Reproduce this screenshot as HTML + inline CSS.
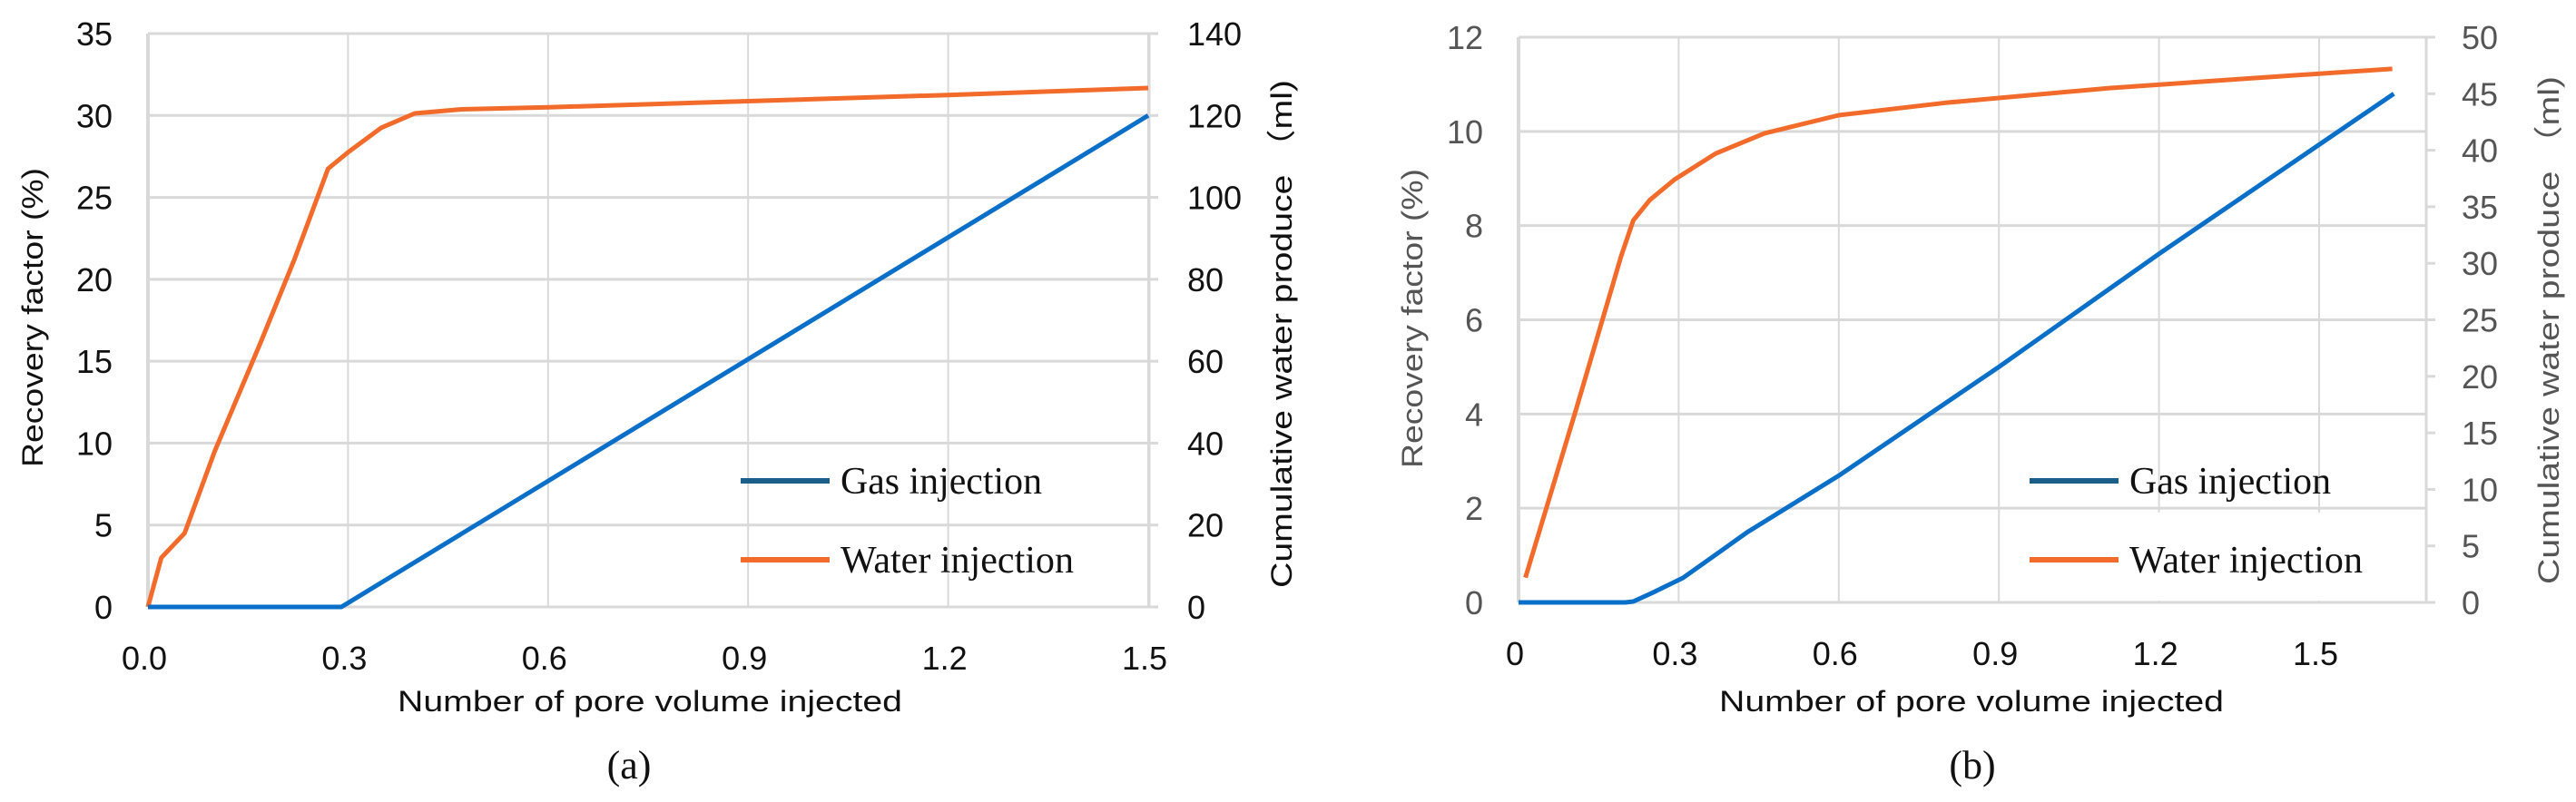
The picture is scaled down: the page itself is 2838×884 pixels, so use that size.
<!DOCTYPE html>
<html><head><meta charset="utf-8"><style>
html,body{margin:0;padding:0;background:#fff;}
svg{display:block;}
.tk{font-family:"Liberation Sans",sans-serif;font-size:36px;fill:#111;}
.tkg{font-family:"Liberation Sans",sans-serif;font-size:36px;fill:#555;}
.ttl{font-family:"Liberation Sans",sans-serif;font-size:32px;fill:#111;}
.lg{font-family:"Liberation Serif",serif;font-size:42px;fill:#111;}
.cap{font-family:"Liberation Serif",serif;font-size:44px;fill:#111;}
</style></head><body>
<svg id="chart" width="2838" height="884" viewBox="0 0 2838 884" xmlns="http://www.w3.org/2000/svg">
<g id="ga"></g>
<g id="gb"></g>
</svg>
<script>
// Panel (a) data
const aXTicks = ["0.0","0.3","0.6","0.9","1.2","1.5"];
const aLeftTicks = [0,5,10,15,20,25,30,35];
const aRightTicks = [0,20,40,60,80,100,120,140];
const aGasX = [0, 0.29, 1.5];
const aGasY = [0, 0, 30];
const aWaterX = [0, 0.02, 0.055, 0.1, 0.17, 0.22, 0.27, 0.3, 0.35, 0.4, 0.47, 0.6, 0.9, 1.2, 1.5];
const aWaterY = [0, 12, 18, 38, 65, 85, 107, 111, 117, 120.5, 121.5, 122, 123.5, 125, 126.7];
// Panel (b) data
const bXTicks = ["0","0.3","0.6","0.9","1.2","1.5"];
const bLeftTicks = [0,2,4,6,8,10,12];
const bRightTicks = [0,5,10,15,20,25,30,35,40,45,50];
const bGasX = [0, 0.2, 0.215, 0.25, 0.308, 0.43, 0.6, 0.9, 1.2, 1.64];
const bGasY = [0, 0, 0.02, 0.2, 0.52, 1.5, 2.69, 5, 7.4, 10.8];
const bWaterX = [0.013, 0.108, 0.192, 0.215, 0.246, 0.292, 0.369, 0.461, 0.6, 0.8, 1.107, 1.414, 1.637];
const bWaterY = [2.2, 17.1, 30.6, 33.8, 35.6, 37.4, 39.7, 41.5, 43.1, 44.2, 45.5, 46.5, 47.2];

const NS="http://www.w3.org/2000/svg";
function mk(parent,tag,attrs,text){
  const e=document.createElementNS(NS,tag);
  for(const k in attrs) e.setAttribute(k,attrs[k]);
  if(text!==undefined) e.textContent=text;
  parent.appendChild(e); return e;
}
function panel(g,cfg){
  const sx=v=>cfg.x0+(v-0)/cfg.xmax*(cfg.x1-cfg.x0);
  const syL=v=>cfg.yb-v/cfg.lmax*(cfg.yb-cfg.yt);
  const syR=v=>cfg.yb-v/cfg.rmax*(cfg.yb-cfg.yt);
  cfg.lt.forEach(t=>{
    const l=mk(g,'line',{x1:cfg.x0,x2:cfg.pr,y1:syL(t),y2:syL(t),stroke:'#d9d9d9','stroke-width':3});
    
    
    const tx=mk(g,'text',{x:cfg.lx,y:syL(t)+13,'text-anchor':'end',class:cfg.lcls},String(t));
    
    
  });
  cfg.xt.forEach((t,i)=>{
    const x=sx(i*0.3);
    const l=mk(g,'line',{x1:x,x2:x,y1:cfg.yt,y2:cfg.yb,stroke:'#d9d9d9','stroke-width':i==0?4:2});
    
    
    const tx=mk(g,'text',{x:x-4,y:cfg.yb+69,'text-anchor':'middle',class:'tk'},t);
    
    
  });
  const rb=mk(g,'line',{x1:cfg.pr,x2:cfg.pr,y1:cfg.yt,y2:cfg.yb,stroke:'#d9d9d9','stroke-width':3});
  
  
  cfg.rt.forEach(t=>{
    const y=syR(t);
    const l=mk(g,'line',{x1:cfg.pr,x2:cfg.pr+10,y1:y,y2:y,stroke:'#d9d9d9','stroke-width':3});
    
    
    const tx=mk(g,'text',{x:cfg.rx,y:y+13,'text-anchor':'start',class:cfg.lcls},String(t));
    
    
  });
  if(cfg.legBox){
    const r=mk(g,'rect',{x:cfg.legBox[0],y:cfg.legBox[1],width:cfg.legBox[2],height:cfg.legBox[3],fill:'#fff'});
    
    
  }
  const pts=(X,Y,f)=>X.map((x,i)=>sx(x).toFixed(1)+','+f(Y[i]).toFixed(1)).join(' ');
  const w=mk(g,'polyline',{points:pts(cfg.wx,cfg.wy,syR),fill:'none',stroke:'#f26b2a','stroke-width':5,'stroke-linejoin':'round'});
  
  
  const gs=mk(g,'polyline',{points:pts(cfg.gx,cfg.gy,syL),fill:'none',stroke:'#0a6fc8','stroke-width':5,'stroke-linejoin':'round'});
  
  
  const L=cfg.leg;
  const l1=mk(g,'line',{x1:L,x2:L+98,y1:530,y2:530,stroke:'#1a5f8a','stroke-width':6});
  
  
  const t1=mk(g,'text',{x:L+110,y:544,class:'lg',textLength:222,lengthAdjust:'spacingAndGlyphs'},'Gas injection');
  
  
  const l2=mk(g,'line',{x1:L,x2:L+98,y1:617,y2:617,stroke:'#f26b2a','stroke-width':6});
  
  
  const t2=mk(g,'text',{x:L+110,y:631,class:'lg',textLength:257,lengthAdjust:'spacingAndGlyphs'},'Water injection');
  
  
  const yt=mk(g,'text',{x:0,y:0,class:'ttl','text-anchor':'middle',transform:`translate(${cfg.ltx},${cfg.lty}) rotate(-90)`,textLength:330,lengthAdjust:'spacingAndGlyphs'},'Recovery factor (%)');
  if(cfg.lcls=='tkg') yt.style.fill='#555';
  
  
  const rt=mk(g,'text',{x:0,y:0,class:'ttl','text-anchor':'middle',transform:`translate(${cfg.rtx},${cfg.rty}) rotate(-90)`,textLength:560,lengthAdjust:'spacingAndGlyphs'},'Cumulative water produce （ml)');
  if(cfg.lcls=='tkg') rt.style.fill='#555';
  
  
  const xt=mk(g,'text',{x:cfg.xtx,y:784,class:'ttl','text-anchor':'middle',textLength:556,lengthAdjust:'spacingAndGlyphs'},'Number of pore volume injected');
  
  
  const cp=mk(g,'text',{x:cfg.cx,y:858,class:'cap','text-anchor':'middle'},cfg.cap);
  
  
}
panel(document.getElementById('ga'),{x0:163,x1:1265,xmax:1.5,pr:1266,yt:37,yb:669,lmax:35,rmax:140,
  lt:aLeftTicks,rt:aRightTicks,xt:aXTicks,lx:124,rx:1308,lcls:'tk',
  wx:aWaterX,wy:aWaterY,gx:aGasX,gy:aGasY,leg:816,ltx:47,lty:350,rtx:1423,rty:368,xtx:716,cx:693,cap:'(a)'});
panel(document.getElementById('gb'),{x0:1673,x1:2555,xmax:1.5,pr:2673,yt:41,yb:664,lmax:12,rmax:50,
  lt:bLeftTicks,rt:bRightTicks,xt:bXTicks,lx:1634,rx:2712,lcls:'tkg',
  wx:bWaterX,wy:bWaterY,gx:bGasX,gy:bGasY,leg:2236,legBox:[2316,565,355,97],ltx:1567,lty:351,rtx:2819,rty:364,xtx:2172,cx:2173,cap:'(b)'});
</script>
</body></html>
